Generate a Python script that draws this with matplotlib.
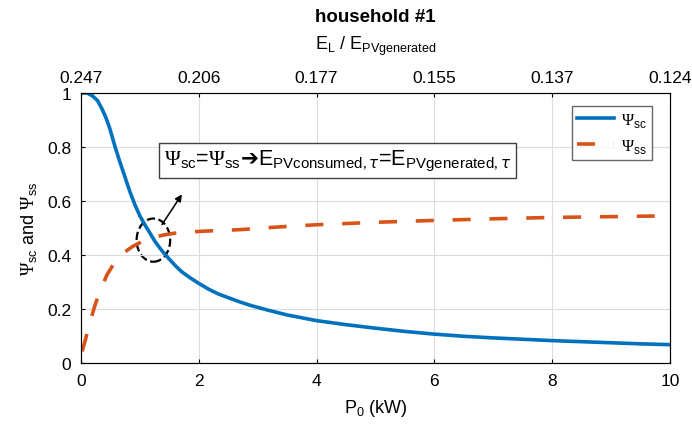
import matplotlib.pyplot as plt
from matplotlib.patches import Ellipse

plt.rcParams['font.family'] = ['Liberation Sans', 'DejaVu Sans']
plt.rcParams['mathtext.fontset'] = 'custom'
plt.rcParams['mathtext.rm'] = 'Liberation Serif'
plt.rcParams['mathtext.sf'] = 'Liberation Sans'
plt.rcParams['mathtext.bf'] = 'DejaVu Sans:bold'

# data
p0 = [0.0, 0.1, 0.19, 0.28, 0.36, 0.43, 0.49, 0.58, 0.66, 0.73, 0.83, 0.92, 1.0, 1.09,
      1.18, 1.26, 1.37, 1.49, 1.6, 1.71, 1.85, 2.0, 2.17, 2.34, 2.5, 2.7, 2.9, 3.17, 3.5,
      4.0, 4.5, 5.0, 5.5, 6.0, 6.5, 7.0, 7.5, 8.0, 8.5, 9.0, 9.5, 10.0]
psi_sc = [1.0, 1.0, 0.99, 0.972, 0.94, 0.905, 0.868, 0.80, 0.745, 0.70, 0.635, 0.584,
          0.545, 0.51, 0.478, 0.449, 0.417, 0.387, 0.361, 0.338, 0.316, 0.295, 0.273,
          0.255, 0.242, 0.226, 0.212, 0.196, 0.178, 0.157, 0.142, 0.129, 0.117, 0.107,
          0.099, 0.093, 0.088, 0.083, 0.079, 0.075, 0.071, 0.068]
p0_ss = [0.02, 0.08, 0.15, 0.24, 0.33, 0.44, 0.55, 0.65, 0.75, 0.88, 1.03, 1.2, 1.4, 1.6,
         1.9, 2.17, 2.72, 3.3, 4.0, 5.0, 6.0, 7.0, 8.0, 9.0, 10.0]
psi_ss = [0.043, 0.09, 0.15, 0.215, 0.27, 0.326, 0.365, 0.39, 0.412, 0.432, 0.449, 0.463,
          0.474, 0.481, 0.486, 0.489, 0.494, 0.503, 0.512, 0.521, 0.528, 0.534, 0.539,
          0.542, 0.545]
top_ticks = [0, 2, 4, 6, 8, 10]
top_labels = ['0.247', '0.206', '0.177', '0.155', '0.137', '0.124']

fig = plt.figure(figsize=(6.92, 4.27), dpi=100)
ax = fig.add_axes([0.117, 0.1475, 0.851, 0.6325])

ax.plot(p0, psi_sc, color='#0072BD', lw=2.6, label=r'$\Psi_{\mathsf{sc}}$')
ax.plot(p0_ss, psi_ss, color='#D95319', lw=2.6, ls=(0, (5, 5.2)), label=r'$\Psi_{\mathsf{ss}}$')

ax.set_xlim(0, 10)
ax.set_ylim(0, 1)
ax.set_xticks([0, 2, 4, 6, 8, 10])
ax.set_yticks([0, 0.2, 0.4, 0.6, 0.8, 1])
ax.set_yticklabels(['0', '0.2', '0.4', '0.6', '0.8', '1'])
ax.grid(True, color='#dcdcdc', lw=0.8)
ax.tick_params(labelsize=12.5, direction='in', length=3, pad=7)
for s in ax.spines.values():
    s.set_color('#262626')
ax.set_xlabel(r'P$_\mathsf{0}$ (kW)', fontsize=13, labelpad=7)
ax.set_ylabel(r'$\Psi_{\mathsf{sc}}$ and $\Psi_{\mathsf{ss}}$', fontsize=13, labelpad=6)

ax2 = ax.twiny()
ax2.set_xlim(0, 10)
ax2.set_xticks(top_ticks)
ax2.set_xticklabels(top_labels)
ax2.tick_params(labelsize=12.5, direction='in', length=3, pad=6)
ax2.set_xlabel(r'E$_\mathsf{L}$ / E$_\mathsf{PVgenerated}$', fontsize=13, labelpad=15)
ax2.set_title('household #1', fontsize=13.5, fontweight='bold', pad=9)

ell = Ellipse((1.23, 0.455), 0.57, 0.16, fill=False, ls='--', lw=1.6, color='black')
ax.add_patch(ell)
ax.annotate('', xy=(1.74, 0.633), xytext=(1.35, 0.504),
            arrowprops=dict(arrowstyle='-|>', color='black', lw=1.1))
ax.text(1.41, 0.75,
        r'$\Psi_{\mathsf{sc}}$=$\Psi_{\mathsf{ss}}\mathbf{➔}$E$_{\mathsf{PVconsumed},\tau}$=E$_{\mathsf{PVgenerated},\tau}$',
        fontsize=15.5, va='center', ha='left',
        bbox=dict(boxstyle='square,pad=0.22', fc='white', ec='#404040', lw=1))

leg = ax.legend(loc='upper right', fontsize=12, fancybox=False, edgecolor='#404040',
                handlelength=2.2, handletextpad=0.4, borderpad=0.3, borderaxespad=0,
                bbox_to_anchor=(0.969, 0.952))
leg.get_frame().set_linewidth(1)

fig.savefig('out.png', dpi=100)
